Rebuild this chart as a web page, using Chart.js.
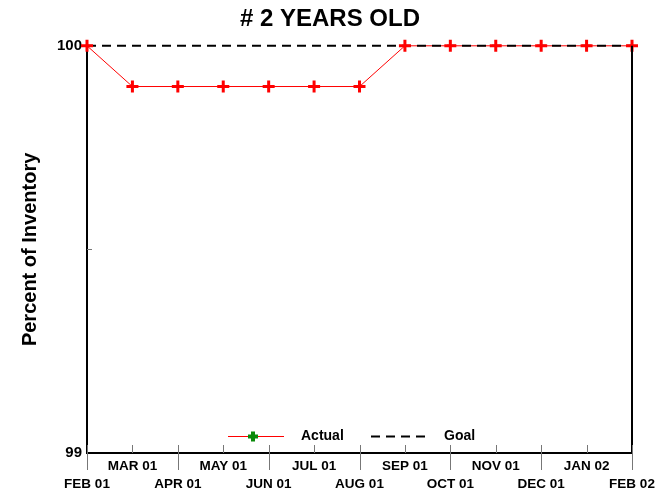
<!DOCTYPE html>
<html>
<head>
<meta charset="utf-8">
<script src="https://cdn.jsdelivr.net/npm/chart.js@4/dist/chart.umd.min.js"></script>
<style>
html,body{margin:0;padding:0;background:#ffffff;}
#wrap{width:660px;height:495px;}
</style>
</head>
<body>
<div id="wrap"><canvas id="c" width="660" height="495"></canvas></div>
<script>
// ---- data ----
const months = ['FEB 01','MAR 01','APR 01','MAY 01','JUN 01','JUL 01','AUG 01','SEP 01','OCT 01','NOV 01','DEC 01','JAN 02','FEB 02'];
const actualValues = [100, 99.9, 99.9, 99.9, 99.9, 99.9, 99.9, 100, 100, 100, 100, 100, 100];
const goalValues = [100, 100, 100, 100, 100, 100, 100, 100, 100, 100, 100, 100, 100];
const yLabeledTicks = [99, 100];
const chartTitle = '# 2 YEARS OLD';
const yAxisTitle = 'Percent of Inventory';
const seriesNames = ['Actual', 'Goal'];

const FONT = "'Liberation Sans', Arial, Helvetica, sans-serif";

const framePlugin = {
  id: 'frame',
  afterDraw(chart) {
    const ctx = chart.ctx;
    const a = chart.chartArea;
    const xs = chart.scales.x;
    const ys = chart.scales.y;
    ctx.save();
    // right border
    ctx.strokeStyle = '#000000';
    ctx.lineWidth = 2;
    ctx.beginPath();
    ctx.moveTo(a.right, a.top);
    ctx.lineTo(a.right, a.bottom + 1);
    ctx.stroke();
    // x tick marks
    ctx.strokeStyle = '#777777';
    ctx.lineWidth = 1;
    for (let i = 0; i < months.length; i++) {
      const px = Math.round(xs.getPixelForValue(i)) + 0.5;
      ctx.beginPath();
      ctx.moveTo(px, a.bottom - 8);
      ctx.lineTo(px, a.bottom);
      ctx.stroke();
      if (i % 2 === 0) {
        ctx.beginPath();
        ctx.moveTo(px, a.bottom);
        ctx.lineTo(px, a.bottom + 17);
        ctx.stroke();
      }
    }
    // y minor tick
    const py = Math.round(ys.getPixelForValue(99.5)) + 0.5;
    ctx.beginPath();
    ctx.moveTo(a.left, py);
    ctx.lineTo(a.left + 5, py);
    ctx.stroke();

    // legend
    const ly = a.bottom - 17;
    const lx = a.left;
    ctx.strokeStyle = '#ff0000';
    ctx.lineWidth = 1;
    ctx.beginPath();
    ctx.moveTo(lx + 141, ly + 0.5);
    ctx.lineTo(lx + 197, ly + 0.5);
    ctx.stroke();
    // green cross marker
    ctx.strokeStyle = '#0a8a0a';
    ctx.lineWidth = 4;
    ctx.beginPath();
    ctx.moveTo(lx + 161, ly + 0.5);
    ctx.lineTo(lx + 171, ly + 0.5);
    ctx.moveTo(lx + 166, ly - 4.5);
    ctx.lineTo(lx + 166, ly + 5.5);
    ctx.stroke();
    ctx.fillStyle = '#000000';
    ctx.font = 'bold 14px ' + FONT;
    ctx.textBaseline = 'middle';
    ctx.textAlign = 'left';
    ctx.fillText(chart.data.datasets[0].label, lx + 214, ly);
    ctx.strokeStyle = '#000000';
    ctx.lineWidth = 2;
    ctx.setLineDash([9, 6]);
    ctx.beginPath();
    ctx.moveTo(lx + 284, ly + 0.5);
    ctx.lineTo(lx + 340, ly + 0.5);
    ctx.stroke();
    ctx.setLineDash([]);
    ctx.fillText(chart.data.datasets[1].label, lx + 357, ly);
    ctx.restore();
  }
};

new Chart(document.getElementById('c'), {
  type: 'line',
  data: {
    labels: months,
    datasets: [
      {
        label: seriesNames[0],
        data: actualValues,
        borderColor: '#ff0000',
        borderWidth: 1,
        pointRadius: 0,
        tension: 0,
        clip: false,
        order: 3
      },
      {
        label: seriesNames[1],
        data: goalValues,
        borderColor: '#000000',
        borderWidth: 2,
        borderDash: [9, 6],
        pointRadius: 0,
        clip: false,
        order: 2
      },
      {
        label: seriesNames[0] + ' markers',
        data: actualValues,
        showLine: false,
        pointStyle: 'cross',
        pointRadius: 6,
        pointBorderWidth: 3,
        pointBorderColor: '#ff0000',
        pointBackgroundColor: '#ff0000',
        clip: false,
        order: 1
      }
    ]
  },
  options: {
    responsive: false,
    devicePixelRatio: 1,
    animation: false,
    layout: { padding: { left: 28, right: 28, top: 0, bottom: 0 } },
    plugins: {
      legend: { display: false },
      tooltip: { enabled: false },
      title: {
        display: true,
        text: chartTitle,
        color: '#000000',
        font: { family: FONT, size: 24, weight: 'bold' },
        padding: { top: 5, bottom: 12 }
      }
    },
    scales: {
      x: {
        type: 'category',
        offset: false,
        grid: { display: false, drawTicks: false },
        border: { display: true, color: '#000000', width: 2 },
        ticks: {
          autoSkip: false,
          maxRotation: 0,
          minRotation: 0,
          padding: 4,
          color: '#000000',
          font: { family: FONT, size: 13.5, weight: 'bold', lineHeight: 1.35 },
          callback: function(v, i) {
            return i % 2 ? [months[i], ''] : ['', months[i]];
          }
        },
        afterFit: function(s) { s.height = 42; }
      },
      y: {
        min: 99,
        max: 100,
        grid: { display: false, drawTicks: false },
        border: { display: true, color: '#000000', width: 2 },
        ticks: {
          stepSize: 0.5,
          padding: 5,
          color: '#000000',
          font: { family: FONT, size: 15, weight: 'bold' },
          callback: function(v) { return yLabeledTicks.includes(v) ? String(v) : ''; }
        },
        title: {
          display: true,
          text: yAxisTitle,
          color: '#000000',
          font: { family: FONT, size: 20, weight: 'bold' },
          padding: { top: -10, bottom: 0 }
        },
        afterFit: function(s) { s.width = 59; }
      }
    }
  },
  plugins: [framePlugin]
});
</script>
</body>
</html>
